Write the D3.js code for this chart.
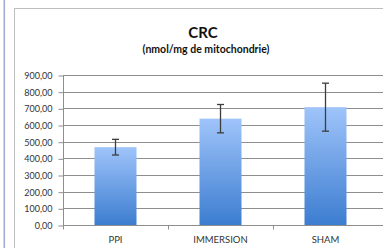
<!DOCTYPE html>
<html>
<head>
<meta charset="utf-8">
<script src="https://cdn.jsdelivr.net/npm/d3@7"></script>
<style>
  body { margin: 0; background: #fff; }
  svg { display: block; }
</style>
</head>
<body>
<svg id="canvas"></svg>
<script>
// CRC values
const groups = ['PPI', 'IMMERSION', 'SHAM'];
const means = [467, 638, 707];
const errors = [47, 85, 144];
const yTicks = [0, 100, 200, 300, 400, 500, 600, 700, 800, 900];

const w = 383;
const h = 248;
const plotLeft = 63;
const plotRight = 378;
const plotTop = 75;
const plotBottom = 225;

const svg = d3.select('#canvas').attr('width', w).attr('height', h);

// page decoration: blue stripe on the left and the chart frame
svg.append('rect').attr('x', 3.5).attr('y', 0).attr('width', 1.6).attr('height', h).attr('fill', '#a3abd0');
svg.append('rect').attr('x', 14.5).attr('y', 8.5).attr('width', 400).attr('height', 260)
	.attr('fill', '#fff').attr('stroke', '#bdbdbd').attr('stroke-width', 1);

const defs = svg.append('defs');
const grad = defs.append('linearGradient').attr('id', 'barGrad').attr('x1', 0).attr('y1', 0).attr('x2', 0).attr('y2', 1);
grad.append('stop').attr('offset', '0%').attr('stop-color', '#9fc4fa');
grad.append('stop').attr('offset', '100%').attr('stop-color', '#3c7dd0');

const xScale = d3.scaleBand().domain(groups).range([plotLeft, plotRight]).paddingInner(0.6).paddingOuter(0.3);
const bandScale = d3.scaleBand().domain(groups).range([plotLeft, plotRight]);
const yScale = d3.scaleLinear().domain([0, 900]).range([plotBottom, plotTop]);

// gridlines
svg.append('g')
	.selectAll('line')
	.data(yTicks)
	.enter()
	.append('line')
	.attr('x1', plotLeft)
	.attr('x2', plotRight + 5)
	.attr('y1', (d) => Math.round(yScale(d)) + 0.5)
	.attr('y2', (d) => Math.round(yScale(d)) + 0.5)
	.attr('stroke', '#8e8e8e')
	.attr('stroke-width', 1);

// y axis
const yAxis = d3.axisLeft(yScale).tickValues(yTicks).tickSize(5).tickPadding(6)
	.tickFormat((d) => d3.format('.2f')(d).replace('.', ','));
const yG = svg.append('g').attr('transform', 'translate(' + (plotLeft + 0.5) + ',0.5)').call(yAxis);
yG.select('.domain').attr('stroke', '#8e8e8e').attr('d', 'M0,' + plotTop + 'V' + plotBottom);
yG.selectAll('.tick line').attr('stroke', '#8e8e8e');
yG.selectAll('.tick text').attr('fill', '#333').style('font-family', 'Lato, sans-serif').style('font-size', '9px');

// bars
svg.selectAll('rect.bar')
	.data(groups)
	.enter()
	.append('rect')
	.attr('class', 'bar')
	.attr('x', (d) => xScale(d))
	.attr('width', xScale.bandwidth())
	.attr('y', (d, i) => yScale(means[i]))
	.attr('height', (d, i) => plotBottom - yScale(means[i]))
	.attr('fill', 'url(#barGrad)');

// x axis with ticks at category boundaries
const xG = svg.append('g').attr('transform', 'translate(0,' + (plotBottom + 0.5) + ')');
xG.append('line').attr('x1', plotLeft).attr('x2', plotRight + 5).attr('stroke', '#8e8e8e');
xG.selectAll('line.tk')
	.data(groups)
	.enter()
	.append('line')
	.attr('class', 'tk')
	.attr('x1', (d) => Math.round(bandScale(d)) + 0.5)
	.attr('x2', (d) => Math.round(bandScale(d)) + 0.5)
	.attr('y1', 0)
	.attr('y2', 4)
	.attr('stroke', '#8e8e8e');
xG.selectAll('text')
	.data(groups)
	.enter()
	.append('text')
	.attr('x', (d) => bandScale(d) + bandScale.bandwidth() / 2)
	.attr('y', 17)
	.attr('text-anchor', 'middle')
	.attr('fill', '#333')
	.style('font-family', 'Lato, sans-serif')
	.style('font-size', '9.5px')
	.text((d) => d);

// error bars
const errG = svg.append('g').attr('stroke', '#3d3d3d').attr('stroke-width', 1.3);
groups.forEach((g, i) => {
	const cx = xScale(g) + xScale.bandwidth() / 2;
	const y1 = yScale(means[i] + errors[i]);
	const y2 = yScale(means[i] - errors[i]);
	errG.append('line').attr('x1', cx).attr('x2', cx).attr('y1', y1).attr('y2', y2);
	errG.append('line').attr('x1', cx - 3.5).attr('x2', cx + 3.5).attr('y1', y1).attr('y2', y1);
	errG.append('line').attr('x1', cx - 3.5).attr('x2', cx + 3.5).attr('y1', y2).attr('y2', y2);
});

// titles
svg.append('text').attr('x', 203).attr('y', 38).attr('text-anchor', 'middle')
	.style('font-family', 'Lato, sans-serif').style('font-size', '15px').style('font-weight', 'bold')
	.attr('fill', '#111').text('CRC');
svg.append('text').attr('x', 206).attr('y', 53).attr('text-anchor', 'middle')
	.style('font-family', 'Lato, sans-serif').style('font-size', '10.5px').style('font-weight', 'bold')
	.attr('fill', '#111').text('(nmol/mg de mitochondrie)');
</script>
</body>
</html>
